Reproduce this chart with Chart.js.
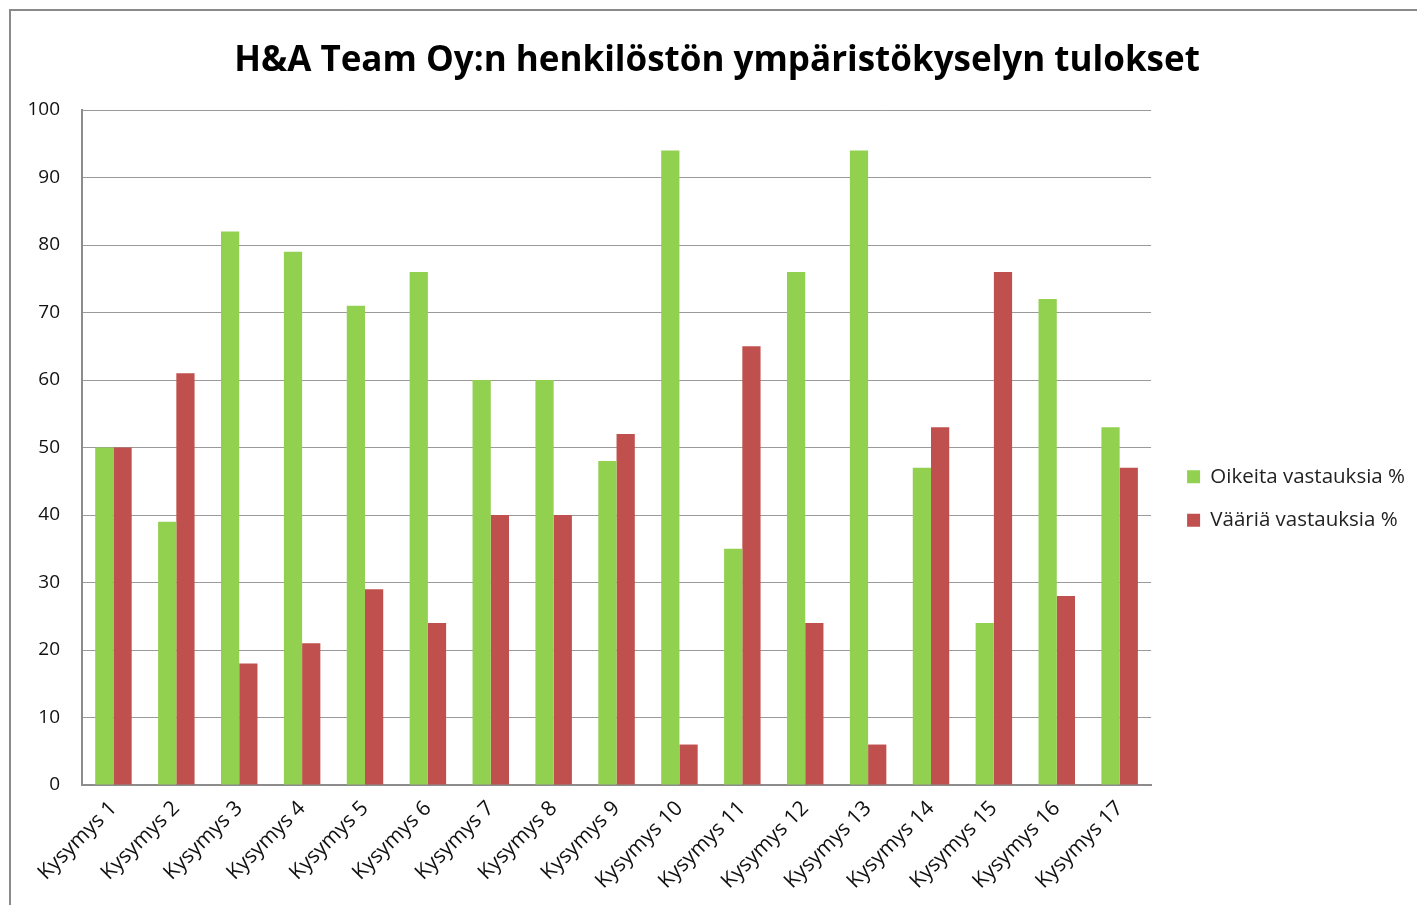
<!DOCTYPE html>
<html>
<head>
<meta charset="utf-8">
<script src="https://cdn.jsdelivr.net/npm/chart.js@4/dist/chart.umd.min.js"></script>
<style>
html,body{margin:0;padding:0;background:#fff;}
#wrap{width:1417px;height:905px;position:relative;}
</style>
</head>
<body>
<div id="wrap"><canvas id="c" width="1417" height="905"></canvas></div>
<script>
const categories = ["Kysymys 1","Kysymys 2","Kysymys 3","Kysymys 4","Kysymys 5","Kysymys 6","Kysymys 7","Kysymys 8","Kysymys 9","Kysymys 10","Kysymys 11","Kysymys 12","Kysymys 13","Kysymys 14","Kysymys 15","Kysymys 16","Kysymys 17"];
const correct = [50, 39, 82, 79, 71, 76, 60, 60, 48, 94, 35, 76, 94, 47, 24, 72, 53];
const wrong   = [50, 61, 18, 21, 29, 24, 40, 40, 52, 6, 65, 24, 6, 53, 76, 28, 47];
const seriesNames = ["Oikeita vastauksia %", "Vääriä vastauksia %"];
const titleText = "H&A Team Oy:n henkilöstön ympäristökyselyn tulokset";

const FONT = "'Open Sans', 'Noto Sans', sans-serif";

const framePlugin = {
  id: 'frame',
  beforeDraw(chart) {
    const ctx = chart.ctx;
    ctx.save();
    ctx.fillStyle = '#fff';
    ctx.fillRect(0, 0, chart.width, chart.height);
    ctx.strokeStyle = '#8a8a8a';
    ctx.lineWidth = 2;
    ctx.strokeRect(10, 10, chart.width + 20, chart.height + 20);
    ctx.restore();
  }
};

new Chart(document.getElementById('c'), {
  type: 'bar',
  data: {
    labels: categories,
    datasets: [
      { label: seriesNames[0], data: correct, backgroundColor: '#92D050', borderWidth: 0 },
      { label: seriesNames[1], data: wrong, backgroundColor: '#C0504D', borderWidth: 0 }
    ]
  },
  options: {
    responsive: false,
    animation: false,
    devicePixelRatio: 1,
    layout: { padding: { left: 19, right: 2, top: 40, bottom: 0 } },
    datasets: { bar: { categoryPercentage: 0.58, barPercentage: 1.0 } },
    plugins: {
      title: {
        display: true,
        text: titleText,
        color: '#000',
        font: { family: FONT, size: 35, weight: 'bold' },
        padding: { top: 0, bottom: 28 }
      },
      legend: {
        position: 'right',
        align: 'center',
        maxWidth: 320,
        title: { display: true, text: ' ', font: { size: 10 }, padding: { top: 0, bottom: 40 } },
        labels: {
          color: '#222',
          font: { family: FONT, size: 20.5 },
          boxWidth: 13,
          boxHeight: 13,
          padding: 23
        }
      },
      tooltip: { enabled: false }
    },
    scales: {
      x: {
        grid: { display: false, drawTicks: false },
        border: { color: '#8c8c8c', width: 2 },
        ticks: {
          color: '#111',
          font: { family: FONT, size: 21 },
          maxRotation: 45,
          minRotation: 45,
          autoSkip: false,
          padding: 11
        }
      },
      y: {
        min: 0, max: 100,
        grid: { color: '#9a9a9a', lineWidth: 1, drawTicks: false },
        border: { color: '#8c8c8c', width: 2 },
        ticks: {
          stepSize: 10,
          color: '#111',
          font: { family: FONT, size: 19 },
          padding: 22
        },
        afterFit(scale) { scale.width = 63; }
      },
      spacer: {
        type: 'linear',
        position: 'right',
        display: true,
        grid: { display: false, drawTicks: false },
        border: { display: false },
        ticks: { display: false },
        afterFit(scale) { scale.width = 13; }
      }
    }
  },
  plugins: [framePlugin]
});
</script>
</body>
</html>
